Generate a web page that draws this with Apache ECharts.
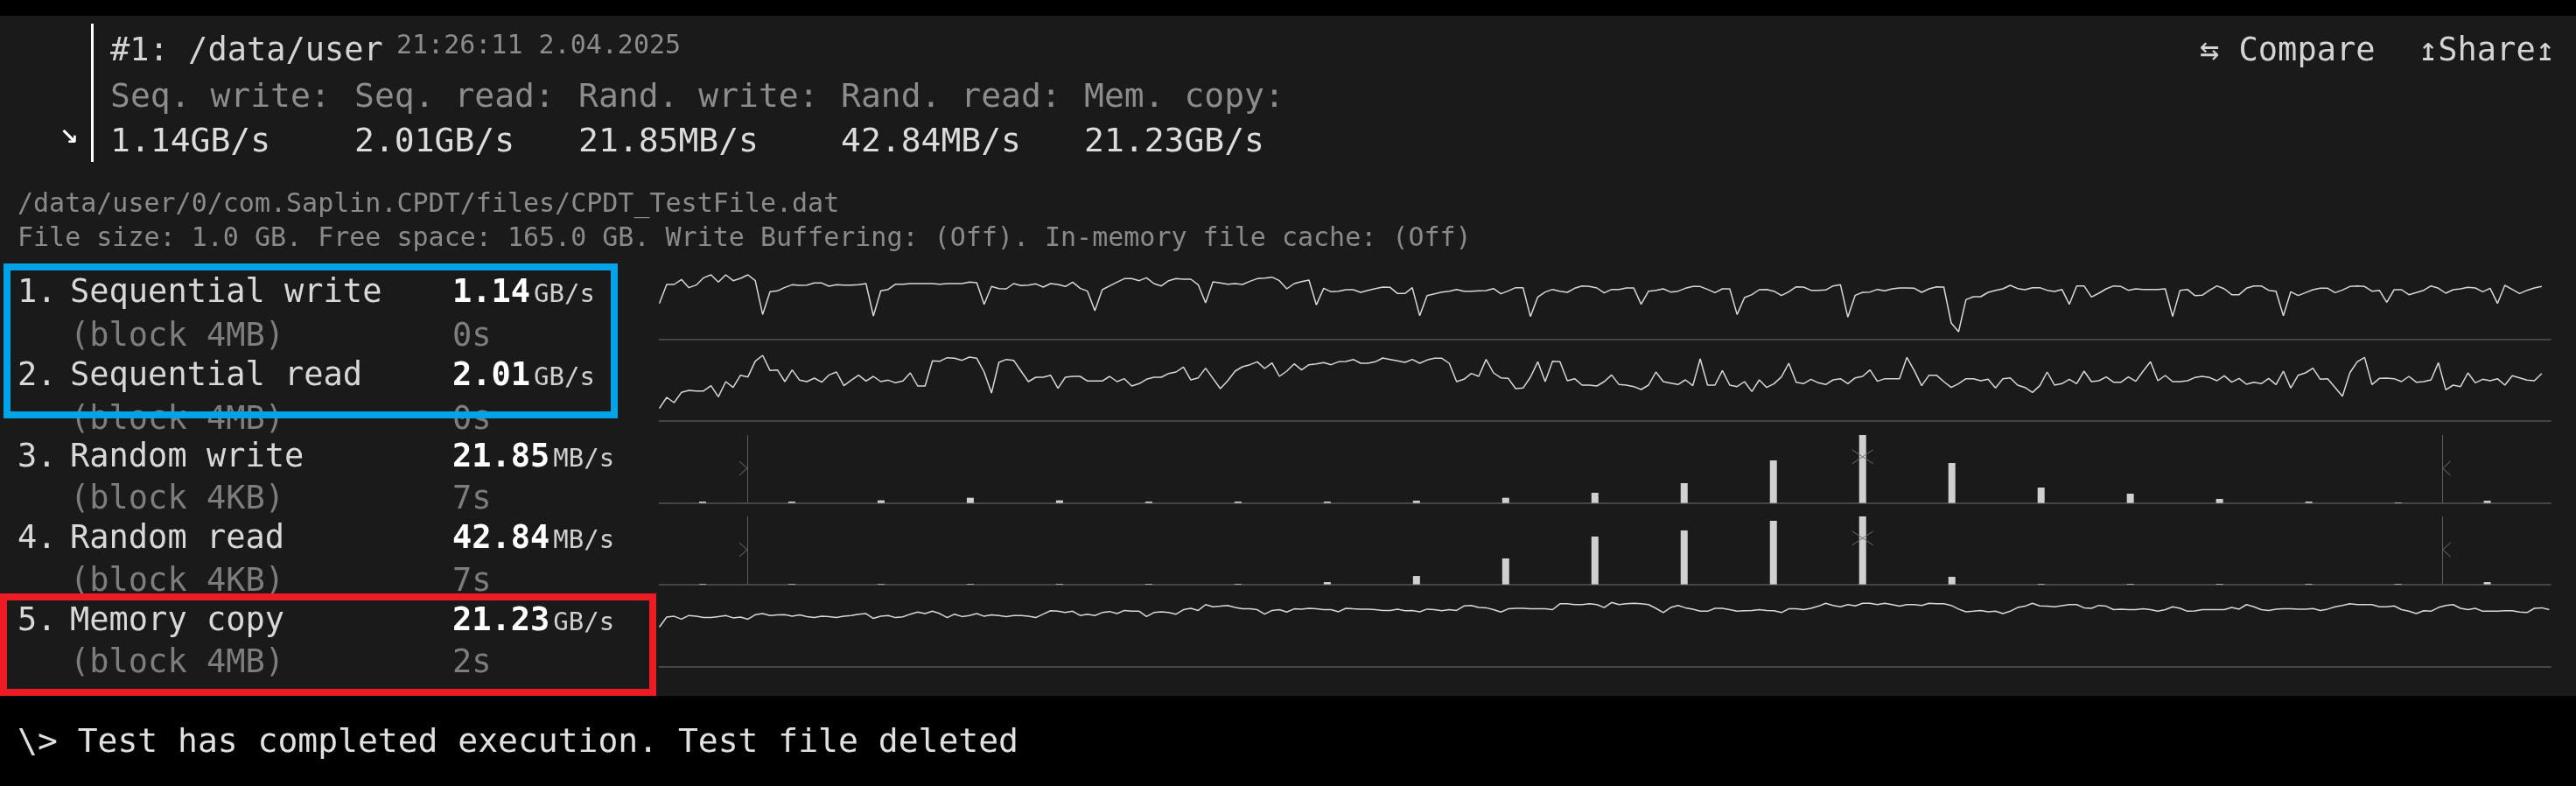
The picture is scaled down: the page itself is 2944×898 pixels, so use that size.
<!DOCTYPE html>
<html>
<head>
<meta charset="utf-8">
<script src="https://cdn.jsdelivr.net/npm/echarts@6/dist/echarts.min.js"></script>
<style>
html,body{margin:0;padding:0;background:#000;}
#c{width:2944px;height:898px;}
</style>
</head>
<body>
<div id="c"></div>
<script>
// ---------------- DATA ----------------
const runTitle = '#1: /data/user';
const runTime = '21:26:11 2.04.2025';
const summaryLabels = ['Seq. write:', 'Seq. read:', 'Rand. write:', 'Rand. read:', 'Mem. copy:'];
const summaryValues = ['1.14GB/s', '2.01GB/s', '21.85MB/s', '42.84MB/s', '21.23GB/s'];
const actionLabels = ['\u21C6 Compare', '\u21A5Share\u21A5'];
const filePath = '/data/user/0/com.Saplin.CPDT/files/CPDT_TestFile.dat';
const fileInfo = 'File size: 1.0 GB. Free space: 165.0 GB. Write Buffering: (Off). In-memory file cache: (Off)';
const testNumbers = ['1.', '2.', '3.', '4.', '5.'];
const testNames = ['Sequential write', 'Sequential read', 'Random write', 'Random read', 'Memory copy'];
const testBlocks = ['(block 4MB)', '(block 4MB)', '(block 4KB)', '(block 4KB)', '(block 4MB)'];
const testSpeeds = ['1.14', '2.01', '21.85', '42.84', '21.23'];
const testUnits = ['GB/s', 'GB/s', 'MB/s', 'MB/s', 'GB/s'];
const testTimes = ['0s', '0s', '7s', '7s', '2s'];
const statusLine = '\\> Test has completed execution. Test file deleted';

// Sequential write, MB/s per 4MB block
const seqWrite = [
738,1128,1128,1230,1062,1116,1266,1326,1176,1326,1206,1254,1326,1206,510,978,996,1068,1122,1110,
1116,1158,1158,1092,1122,1116,1116,1122,1146,480,996,1026,1134,1134,1146,1146,1146,1146,1134,1146,
1146,1146,1176,1164,720,1086,1044,1038,1146,1104,1116,1140,1074,1146,1128,1086,1176,1050,990,588,
1020,1098,1176,1248,1248,
1206,1266,1146,1098,1206,1248,1236,1236,1122,750,1182,1158,1134,1146,1128,1194,1248,1260,1278,1206,
1038,1146,1188,1218,708,1050,978,990,1020,1020,966,1008,1044,1074,1068,942,942,1062,486,900,
936,972,990,1026,990,990,996,1002,1044,936,996,1062,1062,468,870,972,1026,990,966,1050,
1098,1086,1056,954,
1026,1026,1056,1056,720,990,1008,1038,972,990,1050,1086,1086,1026,960,1038,1038,510,858,918,
1020,1026,990,900,978,1080,1074,1008,1008,1014,1098,1122,456,906,966,972,1026,996,1038,1056,
1056,1050,966,1038,1080,1074,336,156,816,876,876,966,1008,1038,1110,1044,1020,1062,1062,1008,
984,1026,720,1098,
1098,870,948,1038,1098,1086,1008,1038,1026,1026,1026,1038,468,1008,1026,900,906,1008,1098,1038,
918,918,1050,1098,1098,1008,990,486,978,900,960,1020,1050,1050,960,1014,1086,1098,1086,990,
1008,762,1020,1020,918,960,1008,1098,1050,948,1020,1038,1068,1056,978,1050,738,1110,1026,942,
1008,1056,1086
];

// Sequential read, MB/s per 4MB block
const seqRead = [
588,1120,868,1358,1456,1428,1428,1680,1148,1876,1596,2184,2100,2856,3136,2408,2436,1876,2436,1946,
1876,2044,1848,2198,2338,1680,1946,2184,1904,2128,1876,1946,1820,1904,2296,1666,1666,2870,2856,3024,
2996,2898,3052,2996,2338,1330,2800,2940,2898,2380,1876,2086,2086,2184,1554,2086,2128,2128,1904,1904,
1904,2128,1876,2016,1666,
1778,1988,2086,2086,2268,2338,2576,1960,2058,2520,2030,1540,1918,2380,2590,2688,2828,2506,2772,2128,
2380,2730,2436,2688,2730,2786,2688,2828,2842,2940,2758,2758,2828,3010,2940,2870,2800,2940,2758,2912,
2996,2996,2758,1876,1988,2268,2128,2940,2296,2058,2030,1540,1568,2086,2828,1876,2856,2828,1918,2016,
1708,1708,1666,1876,
2198,1736,1708,1638,1498,1708,2338,1876,1806,1736,1960,1680,2968,1708,1708,2408,1708,1638,1876,1400,
1960,1596,1778,2100,2758,1848,1778,1988,1820,1736,1960,2016,1778,2058,2128,2436,1890,2016,2016,2016,
3038,2408,1680,2184,2184,1876,1596,1778,2016,2016,1918,1988,1568,2016,2058,1708,1596,1358,1680,2338,
1708,1778,1988,1778,
2380,1876,1918,2100,1848,1848,2100,1890,2380,2828,1918,2170,1876,1876,1918,2072,2128,2072,1918,2156,
1848,2030,1750,1848,1778,2030,1736,2380,1568,2184,2296,2520,1988,2016,1596,1176,2296,2828,3038,1736,
2030,2044,2016,1876,2128,1848,1876,1960,2786,1484,1708,1638,2296,1820,1988,1918,2016,1708,2156,2058,
1946,1918,2268
];

// Random write / read: latency histograms (share of operations, % of the tallest bin)
const randWriteHist = [2.1,2.1,3.9,7.7,3.9,2.1,2.1,2.1,3.4,7.7,15.0,29.2,62.7,100,58.8,22.7,13.7,6.0,2.1,0.9,3.4];
const randReadHist  = [0.9,0.9,0.9,0.9,0.9,0.9,0.9,3.4,12.4,38.2,70.4,79.4,93.6,100,11.2,0.9,0.9,0.9,0.9,0.9,3.4];
const histRangeMarks = [0.5, 19.5];
const histPeakBin = 13;

// Memory copy, GB/s per sample
const memCopy = [
14.9,18.7,19.0,17.9,19.3,19.0,18.5,18.5,18.9,19.3,18.4,18.7,17.9,19.6,20.0,19.3,19.5,19.6,19.0,19.5,
18.9,18.5,19.0,18.9,18.5,19.0,19.3,19.8,20.0,18.2,19.0,19.3,18.5,18.8,19.8,20.6,20.0,20.9,20.0,18.5,
19.8,18.9,19.3,20.0,19.0,19.5,19.3,18.9,19.3,19.3,19.0,18.5,19.8,21.1,20.9,20.4,20.9,19.3,19.8,19.3,
20.4,20.8,20.0,21.2,20.9,
20.9,18.9,20.4,20.7,20.4,19.8,21.5,22.0,21.2,23.4,22.6,22.8,23.1,22.3,21.8,21.8,21.5,19.8,21.2,21.5,
20.6,21.8,21.7,22.0,21.8,21.5,21.5,20.7,22.0,21.8,21.7,21.7,21.5,21.2,21.2,21.7,21.1,21.2,20.7,21.7,
21.5,21.1,21.5,21.2,22.9,23.1,22.3,22.2,21.5,20.6,21.8,22.0,22.0,21.8,21.8,21.8,21.5,23.7,23.7,23.4,
23.4,23.7,23.4,22.3,
24.2,23.4,23.7,23.9,23.7,23.4,22.0,20.4,22.3,23.1,22.2,21.7,20.9,20.9,22.0,22.0,21.5,20.9,21.1,21.2,
21.5,21.2,21.1,20.4,21.8,21.8,21.5,22.0,22.8,23.9,23.1,22.6,23.4,22.9,23.9,23.9,23.4,23.9,23.4,22.8,
23.4,23.4,23.1,23.9,23.7,23.7,23.1,21.7,20.7,20.9,21.2,20.7,20.9,20.0,20.9,22.3,22.8,23.9,22.9,22.8,
22.6,23.0,23.4,23.4,
22.2,22.0,23.1,22.8,21.5,21.7,21.5,21.5,21.8,21.5,20.9,21.5,22.6,22.0,20.9,21.0,21.5,21.5,21.5,21.5,
22.3,21.7,23.4,22.6,21.5,21.2,21.7,21.8,21.8,21.7,21.7,21.9,21.2,21.7,22.6,23.1,23.7,23.4,23.4,23.4,
22.6,22.6,22.9,21.5,20.9,20.0,21.1,20.9,22.3,23.1,23.4,22.0,21.5,22.0,20.9,20.9,20.9,21.1,21.1,20.6,
20.4,22.0,22.2,21.5
];

// ---------------- LAYOUT / STYLE ----------------
const FONT = '"DejaVu Sans Mono", "Liberation Mono", monospace';
const W = 2944, H = 898;
const plotLeft = 753.5, plotRight = 29, rowH = 77.67;
const rowTops = [310, 403, 497, 590, 684];
const yMax = [1398, 3262, 100, 100, 25.63];
const seriesXMax = 256.2;
const histXMin = -0.485, histXMax = 20.71;
const chevronLevel = 51, peakLevel = 68;

const summaryX = [126, 405, 661, 961, 1239];
const rowY = [333, 428, 521, 614, 708];
const rowY2 = [383, 478, 569, 663, 756];
const CH = 22.27; // advance of 37px mono

function txt(x, y, text, size, color, bold, family) {
  return {
    type: 'text', x: x, y: y, z: 10, silent: true,
    style: {
      text: text, fill: color,
      font: (bold ? 'bold ' : '') + size + 'px ' + (family || FONT),
      textAlign: 'left', textVerticalAlign: 'middle'
    }
  };
}

const graphics = [];
graphics.push({type: 'rect', z: 1, silent: true, shape: {x: 0, y: 0, width: W, height: 18}, style: {fill: '#000'}});
graphics.push({type: 'rect', z: 1, silent: true, shape: {x: 0, y: 795, width: W, height: H - 795}, style: {fill: '#000'}});
graphics.push({type: 'line', z: 10, silent: true, shape: {x1: 105.5, y1: 27, x2: 105.5, y2: 185}, style: {stroke: '#ffffff', lineWidth: 3}});
graphics.push(txt(68, 158, '\u2198', 26, '#ffffff', true, '"DejaVu Sans", sans-serif'));
graphics.push(txt(126, 59.5, runTitle, 37, '#d4d4d4'));
graphics.push(txt(453, 53, runTime, 30, '#8c8c8c'));
summaryLabels.forEach((s, i) => graphics.push(txt(summaryX[i], 112.5, s, 38, '#8c8c8c')));
summaryValues.forEach((s, i) => graphics.push(txt(summaryX[i], 163.5, s, 38, '#dcdcdc')));
graphics.push(txt(2514, 59.5, actionLabels[0], 37, '#d4d4d4'));
graphics.push(txt(2764, 59.5, actionLabels[1], 37, '#d4d4d4'));
graphics.push(txt(20, 234, filePath, 30, '#8a8a8a'));
graphics.push(txt(20, 273, fileInfo, 30, '#8a8a8a'));
for (let i = 0; i < testNames.length; i++) {
  graphics.push(txt(20, rowY[i] + 2.4, testNumbers[i], 37, '#d8d8d8'));
  graphics.push(txt(80, rowY[i] + 2.4, testNames[i], 37, '#d8d8d8'));
  graphics.push(txt(80, rowY2[i] + 2.4, testBlocks[i], 37, '#7d7d7d'));
  graphics.push(txt(517, rowY[i] + 2.4, testSpeeds[i], 37, '#ffffff', true));
  graphics.push(txt(517 + testSpeeds[i].length * CH + 4, rowY[i] + 4.8, testUnits[i], 29, '#d0d0d0'));
  graphics.push(txt(517, rowY2[i] + 2.4, testTimes[i], 37, '#7d7d7d'));
}
graphics.push(txt(20, 849, statusLine, 38, '#e0e0e0'));
graphics.push({type: 'rect', z: 20, silent: true, shape: {x: 8, y: 305, width: 694, height: 169}, style: {fill: 'transparent', stroke: '#00a2e8', lineWidth: 8}});
graphics.push({type: 'rect', z: 20, silent: true, shape: {x: 4, y: 682, width: 742, height: 109}, style: {fill: 'transparent', stroke: '#ed1c24', lineWidth: 8}});

// ---------------- CHART ----------------
const grids = [], xAxes = [], yAxes = [], series = [];
for (let i = 0; i < 5; i++) {
  grids.push({left: plotLeft, right: plotRight, top: rowTops[i], height: rowH, containLabel: false});
  const isHist = (i === 2 || i === 3);
  xAxes.push({
    type: 'value', gridIndex: i,
    min: isHist ? histXMin : 0, max: isHist ? histXMax : seriesXMax,
    axisLine: {show: true, onZero: false, lineStyle: {color: '#454545', width: 2}},
    axisTick: {show: false}, axisLabel: {show: false}, splitLine: {show: false}
  });
  yAxes.push({type: 'value', gridIndex: i, min: 0, max: yMax[i], show: false, splitLine: {show: false}});
}
const lineStyle = {color: '#d8d8d8', width: 1.5};
[[0, seqWrite], [1, seqRead], [4, memCopy]].forEach(([g, arr]) => {
  series.push({
    type: 'line', xAxisIndex: g, yAxisIndex: g,
    data: arr.map((v, k) => [k, v]),
    symbol: 'none', showSymbol: false, lineStyle: lineStyle, silent: true, z: 5
  });
});
[[2, randWriteHist], [3, randReadHist]].forEach(([g, arr]) => {
  series.push({
    type: 'bar', xAxisIndex: g, yAxisIndex: g,
    data: arr.map((v, k) => [k, v]),
    barWidth: 8, itemStyle: {color: '#d0d0d0'}, silent: true, z: 5,
    markLine: {
      silent: true, symbol: ['none', 'none'], label: {show: false},
      lineStyle: {color: '#5e5e5e', width: 1, type: 'solid'},
      data: histRangeMarks.map(m => ({xAxis: m}))
    }
  });
  series.push({
    type: 'custom', xAxisIndex: g, yAxisIndex: g, silent: true, z: 6,
    data: [[histRangeMarks[0], chevronLevel, -1], [histRangeMarks[1], chevronLevel, 1], [histPeakBin, peakLevel, 0]],
    encode: {x: 0, y: 1},
    renderItem: function (params, api) {
      const p = api.coord([api.value(0), api.value(1)]);
      const dir = api.value(2);
      const style = {stroke: '#707070', lineWidth: 1, fill: null};
      const mk = (s, w) => ({type: 'polyline', shape: {points: [[p[0] + s * w, p[1] - 8], [p[0], p[1]], [p[0] + s * w, p[1] + 8]]}, style: style});
      if (dir === 0) return {type: 'group', children: [mk(-1, 12), mk(1, 12)]};
      return {type: 'group', children: [mk(dir, 9)]};
    }
  });
});

const chart = echarts.init(document.getElementById('c'), null, {renderer: 'canvas', width: W, height: H});
chart.setOption({
  backgroundColor: '#1a1a1a',
  animation: false,
  grid: grids, xAxis: xAxes, yAxis: yAxes, series: series,
  graphic: graphics
});
</script>
</body>
</html>
